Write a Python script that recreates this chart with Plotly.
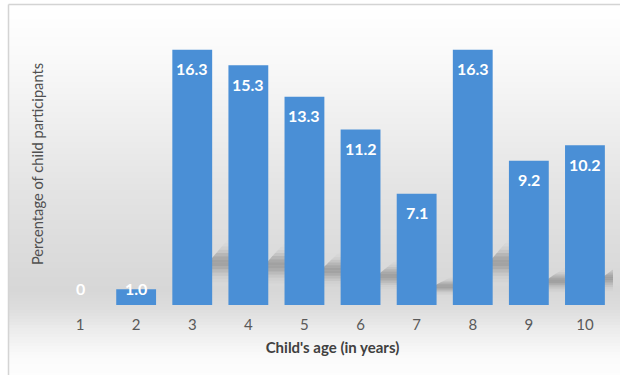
import math
import plotly.graph_objects as go

ages = [1, 2, 3, 4, 5, 6, 7, 8, 9, 10]
percent = [0, 1.0, 16.3, 15.3, 13.3, 11.2, 7.1, 16.3, 9.2, 10.2]
label_text = ["0", "1.0", "16.3", "15.3", "13.3", "11.2", "7.1", "16.3", "9.2", "10.2"]

W, H = 620, 375
ML, MR, MT, MB = 52, 7, 23, 70
PW, PH = W - ML - MR, H - MT - MB
FONT = "Lato"
BAR_HALF = 0.355

def px_x(p):
    return (p - ML) / PW

def px_y(p):
    return (H - MB - p) / PH

fig = go.Figure()
fig.add_trace(go.Bar(
    x=ages, y=percent,
    marker=dict(color="#4a8fd6", line=dict(width=0)),
    width=2 * BAR_HALF,
    hoverinfo="x+y",
))

# background gradient (white -> grey -> white)
stops = [(4, 255), (60, 249), (120, 239), (180, 229), (240, 221), (290, 215),
         (310, 222), (330, 236), (355, 250), (375, 253)]
shapes = []
step = 3
yy = 4
while yy < H:
    yc = yy + step / 2
    g = 253
    for (a, ga), (b, gb) in zip(stops[:-1], stops[1:]):
        if a <= yc <= b:
            g = ga + (gb - ga) * (yc - a) / (b - a)
            break
    g = int(round(g))
    shapes.append(dict(type="rect", xref="paper", yref="paper", layer="below",
                       x0=px_x(9), x1=px_x(W + 2),
                       y0=px_y(min(yy + step + 0.5, H + 2)), y1=px_y(yy),
                       line=dict(width=0), fillcolor="#%02x%02x%02x" % (g, g, g)))
    yy += step
# frame border (top & left)
shapes.append(dict(type="line", xref="paper", yref="paper", layer="below",
                   x0=px_x(8.5), x1=px_x(W + 2), y0=px_y(4.5), y1=px_y(4.5),
                   line=dict(color="#d4d4d4", width=1.5)))
shapes.append(dict(type="line", xref="paper", yref="paper", layer="below",
                   x0=px_x(8.5), x1=px_x(8.5), y0=px_y(4.5), y1=px_y(H + 2),
                   line=dict(color="#d4d4d4", width=1.5)))

# perspective shadows behind bars (sheared up-right, soft dark band)
SH_H = 0.255      # shadow height as fraction of bar value
SH_DX = 0.98      # horizontal shear at the shadow tip, category units
n_sl = 20
for a, v in zip(ages, percent):
    if v < 2:
        continue
    hs = SH_H * v
    for k in range(n_sl):
        f0, f1 = k / n_sl, (k + 1) / n_sl
        fm = (f0 + f1) / 2
        alpha = 0.34 * math.exp(-((fm - 0.66) / 0.17) ** 2)
        if alpha < 0.01:
            continue
        xl0, xr0 = a - BAR_HALF + f0 * SH_DX, a + BAR_HALF + f0 * SH_DX
        xl1, xr1 = a - BAR_HALF + f1 * SH_DX, a + BAR_HALF + f1 * SH_DX
        path = (f"M {xl0},{f0 * hs} L {xr0},{f0 * hs} L {xr1},{f1 * hs} "
                f"L {xl1},{f1 * hs} Z")
        shapes.append(dict(type="path", xref="x", yref="y", layer="below", path=path,
                           line=dict(width=0), fillcolor=f"rgba(50,50,50,{alpha:.3f})"))

annotations = []
for a, v, t in zip(ages, percent, label_text):
    if v < 2:
        annotations.append(dict(x=a, y=0, xref="x", yref="y", text=t, showarrow=False,
                                yanchor="middle", yshift=17,
                                font=dict(family=FONT, size=16, color="white", weight="bold")))
    else:
        annotations.append(dict(x=a, y=v, xref="x", yref="y", text=t, showarrow=False,
                                yanchor="middle", yshift=-19,
                                font=dict(family=FONT, size=16, color="white", weight="bold")))

fig.update_layout(
    width=W, height=H,
    margin=dict(l=ML, r=MR, t=MT, b=MB),
    paper_bgcolor="white", plot_bgcolor="rgba(0,0,0,0)",
    showlegend=False,
    shapes=shapes,
    annotations=annotations,
    xaxis=dict(
        range=[0.5, 10.5], tickmode="array", tickvals=ages, ticktext=[str(a) for a in ages],
        showgrid=False, zeroline=False, showline=False, ticks="",
        ticklabelstandoff=9,
        tickfont=dict(family=FONT, size=15, color="#595959"),
        title=dict(text="Child's age (in years)", standoff=10,
                   font=dict(family=FONT, size=15, color="#404040", weight="bold")),
    ),
    yaxis=dict(
        range=[0, 18], showgrid=False, zeroline=False, showline=False,
        showticklabels=False, ticks="",
        title=dict(text="Percentage of child participants", standoff=3,
                   font=dict(family=FONT, size=14.7, color="#505050")),
    ),
)

fig.write_html("out.html")
